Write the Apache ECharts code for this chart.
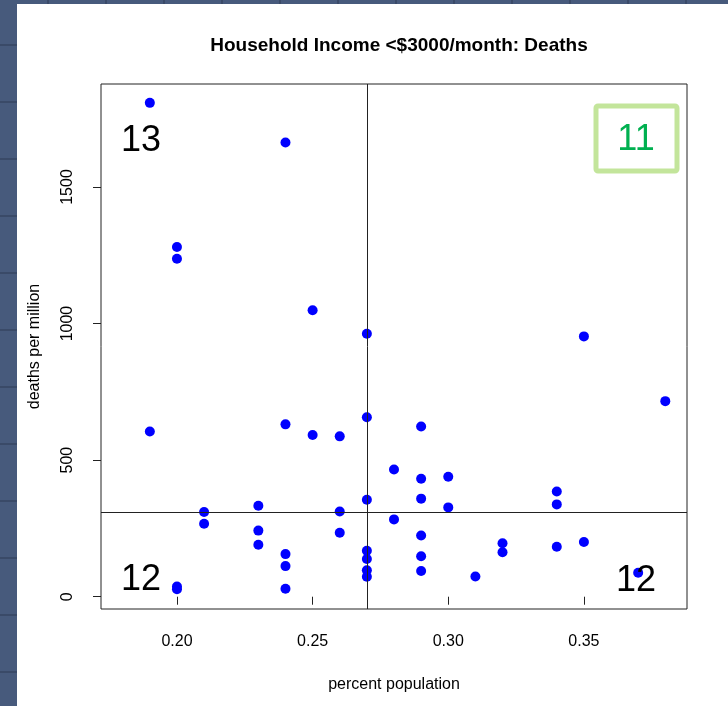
<!DOCTYPE html>
<html>
<head>
<meta charset="utf-8">
<script src="https://cdn.jsdelivr.net/npm/echarts@6/dist/echarts.min.js"></script>
<style>
html,body{margin:0;padding:0;background:#fff;}
#chart{width:728px;height:706px;}
</style>
</head>
<body>
<div id="chart"></div>
<script>
// ---- data ----
var titleText = 'Household Income <$3000/month: Deaths';
var xName = 'percent population';
var yName = 'deaths per million';
var xValues = [0.19,0.24,0.20,0.20,0.25,0.27,0.35,0.38,0.27,0.24,0.29,0.19,0.25,0.26,0.28,0.30,0.29,0.34,0.29,0.27,0.34,0.23,0.30,0.21,0.26,0.28,0.21,0.23,0.26,0.29,0.35,0.32,0.23,0.34,0.27,0.32,0.24,0.29,0.27,0.24,0.27,0.29,0.37,0.31,0.27,0.20,0.24,0.20];
var yValues = [1808,1663,1280,1237,1049,963,953,716,657,631,623,605,592,587,466,439,432,385,359,355,338,333,327,310,312,283,267,242,234,224,200,196,190,183,168,163,156,148,138,112,97,94,88,74,73,37,29,27];
var xTicks = [0.20,0.25,0.30,0.35];
var yTicks = [0,500,1000,1500];
var medianX = 0.27;
var medianY = 310;
var quadrantCounts = {topLeft:'13', topRight:'11', bottomLeft:'12', bottomRight:'12'};

var points = xValues.map(function(x,i){return [x,yValues[i]];});

var FONT = '"Liberation Sans", Arial, Helvetica, sans-serif';
var stripColor = '#475a7c';
var stripLine = '#3a4a68';

var graphics = [];
// dark window strips at left/top
graphics.push({type:'rect', left:0, top:0, shape:{width:17, height:706}, style:{fill:stripColor}, silent:true});
graphics.push({type:'rect', left:0, top:0, shape:{width:728, height:4}, style:{fill:stripColor}, silent:true});
for (var k=0;k<12;k++){
  graphics.push({type:'rect', left:0, top:44+57*k, shape:{width:17,height:2}, style:{fill:stripLine}, silent:true});
  graphics.push({type:'rect', left:47+58*k, top:0, shape:{width:2,height:4}, style:{fill:stripLine}, silent:true});
}
// quadrant counts
function qText(txt, cx, cy, color){
  return {type:'text', x:cx, y:cy, style:{text:txt, fill:color||'#000', font:'36px '+FONT, textAlign:'center', textVerticalAlign:'middle'}, silent:true, z:10};
}
graphics.push(qText(quadrantCounts.topLeft, 141, 141));
graphics.push({type:'rect', shape:{x:596, y:106, width:81, height:65, r:2}, style:{fill:'#fff', stroke:'#c3e59b', lineWidth:5}, silent:true, z:9});
graphics.push(qText(quadrantCounts.topRight, 636, 140, '#00b050'));
graphics.push(qText(quadrantCounts.bottomLeft, 141, 580));
graphics.push(qText(quadrantCounts.bottomRight, 636, 581));

var chart = echarts.init(document.getElementById('chart'), null, {renderer:'canvas'});
chart.setOption({
  backgroundColor:'#fff',
  animation:false,
  title:{text:titleText, left:394, top:31, textAlign:'center',
    textStyle:{fontFamily:FONT, fontSize:19, fontWeight:'bold', color:'#000'}},
  grid:{left:101, right:41, top:84, bottom:97, show:true, borderColor:'#222', borderWidth:1, backgroundColor:'transparent'},
  xAxis:{type:'value', min:0.172, max:0.388,
    name:xName, nameLocation:'middle', nameGap:68,
    nameTextStyle:{fontFamily:FONT, fontSize:16, color:'#000'},
    axisLine:{show:false},
    splitLine:{show:false},
    axisTick:{show:true, length:8, customValues:xTicks, lineStyle:{color:'#222'}},
    axisLabel:{customValues:xTicks, margin:25, fontFamily:FONT, fontSize:16, color:'#000',
      formatter:function(v){return v.toFixed(2);}}
  },
  yAxis:{type:'value', min:-45, max:1877,
    name:yName, nameLocation:'middle', nameGap:58,
    nameTextStyle:{fontFamily:FONT, fontSize:16, color:'#000'},
    axisLine:{show:false},
    splitLine:{show:false},
    axisTick:{show:true, length:8, customValues:yTicks, lineStyle:{color:'#222'}},
    axisLabel:{customValues:yTicks, rotate:90, margin:25, fontFamily:FONT, fontSize:16, color:'#000',
      formatter:function(v){return String(v);}}
  },
  series:[{
    type:'scatter',
    data:points,
    symbol:'circle',
    symbolSize:10,
    itemStyle:{color:'#0000ff', opacity:1},
    markLine:{silent:true, symbol:['none','none'], label:{show:false},
      lineStyle:{color:'#222', width:1, type:'solid'},
      data:[{xAxis:medianX},{yAxis:medianY}]}
  }],
  graphic:graphics
});
</script>
</body>
</html>
